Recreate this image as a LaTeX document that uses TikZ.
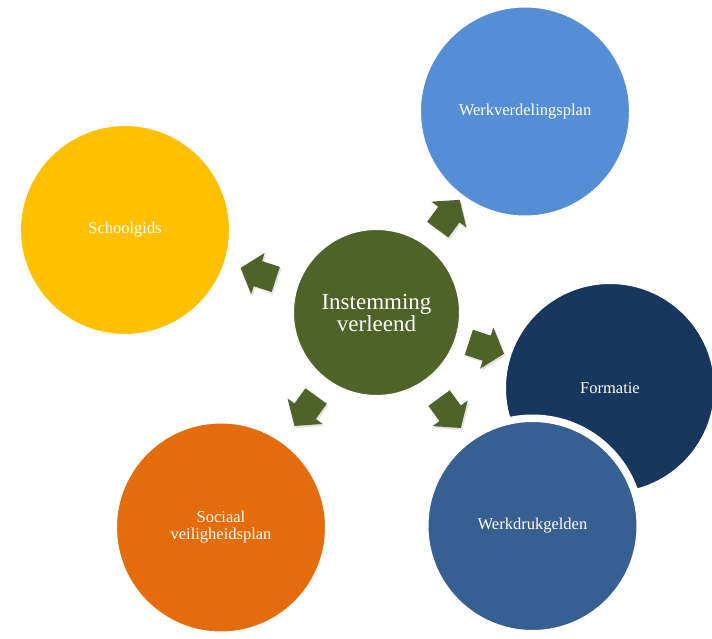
\documentclass[tikz,border=0pt]{standalone}
\usepackage{fontspec}
\setmainfont{Liberation Serif}
\usetikzlibrary{shapes.arrows,shadows,calc}
\definecolor{cyellow}{HTML}{FFC000}
\definecolor{cblue}{HTML}{558ED5}
\definecolor{cnavy}{HTML}{17375E}
\definecolor{cmid}{HTML}{376092}
\definecolor{corange}{HTML}{E46C0A}
\definecolor{cgreen}{HTML}{4F6228}
\tikzset{
  bubble/.style={circle, draw=white, line width=7.5pt, minimum size=215.5pt, inner sep=0pt,
    text=white, align=center, font=\fontsize{16.5}{17}\selectfont,
    drop shadow={opacity=0.15, shadow xshift=1.5pt, shadow yshift=-3pt}},
  hub/.style={bubble, fill=cgreen, minimum size=172.5pt, font=\fontsize{23}{22}\selectfont},
  blockarrow/.style={single arrow, fill=cgreen, draw=none, inner xsep=0pt, inner ysep=13pt,
    minimum height=37pt, single arrow head extend=8.5pt,
    single arrow tip angle=100,
    drop shadow={opacity=0.22, shadow xshift=1.5pt, shadow yshift=-2pt}}
}
\begin{document}
\begin{tikzpicture}[x=1pt,y=-1pt]
\useasboundingbox (0,0) rectangle (712,639);
\node[bubble, fill=cyellow] (school) at (125,230) {Schoolgids};
\node[bubble, fill=cblue] (werkv) at (525,111.5) {Werkverdelingsplan};
\node[bubble, fill=cnavy] (form) at (610,388) {Formatie};
\node[bubble, fill=cmid] (werkd) at (532.5,526) {Werkdrukgelden};
\node[bubble, fill=corange] (soc) at (221,527.5) {Sociaal\\veiligheidsplan};
\node[hub] (hub) at (376.5,312.5) {Instemming\\verleend};
\foreach \tg/\dd/\nm in {school/119/a1, werkv/116/a2, form/110/a3, werkd/119/a4, soc/116/a5}{
  \path let \p1=($(\tg)-(hub)$), \n1={atan2(\y1,\x1)} in
    node[blockarrow, rotate=\n1] (\nm) at ($(hub)!\dd pt!(\tg)$) {};
}
\end{tikzpicture}
\end{document}
